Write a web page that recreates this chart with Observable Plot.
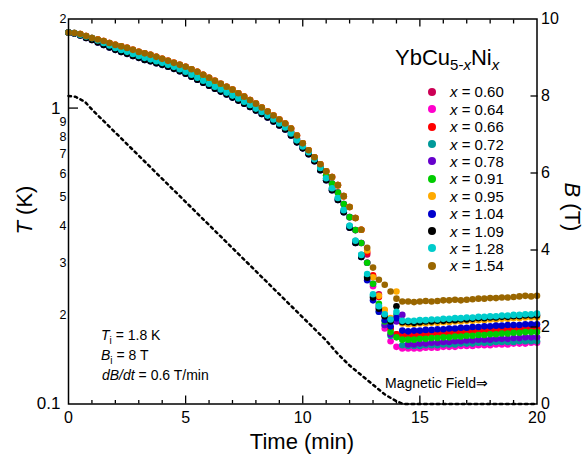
<!DOCTYPE html>
<html>
<head>
<meta charset="utf-8">
<script src="https://cdn.jsdelivr.net/npm/d3@7"></script>
<script src="https://cdn.jsdelivr.net/npm/@observablehq/plot@0.6"></script>
<style>
  body { margin: 0; background: white; }
  #wrap { position: relative; width: 587px; height: 455px; font-family: "Liberation Sans", Arial, sans-serif; color: black; }
  .ov { position: absolute; line-height: 1; white-space: nowrap; }
  .ov sub { line-height: 0; }
  .ldot { position: absolute; width: 8px; height: 8px; border-radius: 50%; }
</style>
</head>
<body>
<div id="wrap"></div>
<script>
// time grid (min)
const times = [0,0.25,0.5,0.75,1,1.25,1.5,1.75,2,2.25,2.5,2.75,3,3.25,3.5,3.75,4,4.25,4.5,4.75,5,5.25,5.5,5.75,6,6.25,6.5,6.75,7,7.25,7.5,7.75,8,8.25,8.5,8.75,9,9.25,9.5,9.75,10,10.25,10.5,10.75,11,11.25,11.5,11.75,12,12.25,12.5,12.75,13,13.25,13.5,13.75,14,14.25,14.5,14.75,15,15.25,15.5,15.75,16,16.25,16.5,16.75,17,17.25,17.5,17.75,18,18.25,18.5,18.75,19,19.25,19.5,19.75,20];

// cooling part, t = 0 ... 12.5 min (K)
const coolA = [1.801,1.794,1.780,1.753,1.726,1.706,1.686,1.660,1.635,1.616,1.597,1.573,1.548,1.531,1.513,1.490,1.467,1.444,1.422,1.400,1.379,1.352,1.327,1.296,1.266,1.237,1.209,1.181,1.154,1.122,1.093,1.064,1.035,1.004,0.973,0.944,0.915,0.887,0.853,0.808,0.760,0.720,0.682,0.646,0.612,0.585,0.549,0.504,0.463,0.425,0.388];
const coolB = [1.801,1.790,1.770,1.740,1.713,1.686,1.660,1.632,1.604,1.582,1.561,1.537,1.513,1.493,1.476,1.453,1.433,1.411,1.389,1.366,1.342,1.314,1.287,1.257,1.228,1.200,1.173,1.146,1.119,1.091,1.064,1.036,1.008,0.979,0.951,0.922,0.894,0.867,0.830,0.786,0.745,0.709,0.671,0.631,0.591,0.556,0.518,0.474,0.428,0.387,0.350];
const coolC = [1.801,1.792,1.770,1.745,1.724,1.693,1.660,1.628,1.597,1.572,1.549,1.524,1.501,1.478,1.461,1.439,1.422,1.400,1.378,1.353,1.326,1.296,1.266,1.237,1.209,1.181,1.155,1.128,1.102,1.077,1.051,1.024,0.996,0.970,0.943,0.915,0.887,0.860,0.821,0.778,0.742,0.709,0.671,0.627,0.579,0.536,0.497,0.452,0.400,0.356,0.319];
const coolD = [1.801,1.787,1.760,1.726,1.700,1.667,1.635,1.603,1.573,1.548,1.525,1.501,1.478,1.455,1.439,1.417,1.400,1.379,1.357,1.332,1.306,1.276,1.247,1.218,1.190,1.163,1.137,1.111,1.085,1.060,1.035,1.008,0.981,0.955,0.929,0.901,0.873,0.847,0.808,0.766,0.731,0.698,0.661,0.617,0.570,0.528,0.489,0.445,0.394,0.350,0.314];

// field-off transition, t = 12.75 ... 14.25 min (K)
const tail060 = [0.320,0.270,0.235,0.200,0.180,0.172,0.172];
const tail064 = [0.300,0.250,0.210,0.180,0.163,0.156,0.154];
const tail066 = [0.325,0.272,0.230,0.198,0.180,0.172,0.170];
const tail072 = [0.270,0.232,0.205,0.185,0.170,0.200,0.158];
const tail078 = [0.300,0.255,0.215,0.185,0.172,0.190,0.200];
const tail091 = [0.300,0.255,0.218,0.190,0.175,0.168,0.165];
const tail095 = [0.330,0.268,0.232,0.208,0.195,0.240,0.187];
const tail104 = [0.262,0.224,0.205,0.192,0.183,0.195,0.177];
const tail109 = [0.267,0.229,0.210,0.198,0.190,0.214,0.189];
const tail128 = [0.275,0.235,0.214,0.201,0.193,0.205,0.191];
const tail154 = [0.337,0.289,0.263,0.253,0.240,0.227,0.222];

// zero-field plateau, t = 14.5 ... 20 min (K)
const plat060 = [0.172,0.172,0.173,0.173,0.174,0.174,0.175,0.175,0.176,0.176,0.177,0.177,0.178,0.178,0.179,0.179,0.179,0.180,0.180,0.180,0.181,0.181,0.181];
const plat064 = [0.154,0.154,0.154,0.155,0.155,0.155,0.156,0.156,0.156,0.157,0.157,0.157,0.158,0.158,0.158,0.159,0.159,0.159,0.160,0.160,0.160,0.161,0.161];
const plat066 = [0.170,0.170,0.171,0.171,0.172,0.172,0.173,0.173,0.174,0.174,0.175,0.175,0.176,0.176,0.177,0.177,0.177,0.178,0.178,0.178,0.179,0.179,0.179];
const plat072 = [0.157,0.157,0.157,0.158,0.158,0.158,0.159,0.159,0.159,0.160,0.160,0.160,0.161,0.161,0.161,0.162,0.162,0.162,0.162,0.163,0.163,0.163,0.163];
const plat078 = [0.159,0.159,0.160,0.160,0.161,0.161,0.162,0.162,0.163,0.163,0.164,0.164,0.165,0.165,0.165,0.166,0.166,0.166,0.167,0.167,0.168,0.168,0.168];
const plat091 = [0.165,0.165,0.166,0.166,0.167,0.167,0.168,0.168,0.169,0.169,0.170,0.170,0.171,0.171,0.172,0.172,0.173,0.173,0.174,0.174,0.175,0.175,0.175];
const plat095 = [0.186,0.186,0.187,0.187,0.188,0.188,0.189,0.189,0.190,0.190,0.191,0.191,0.192,0.192,0.193,0.193,0.194,0.194,0.195,0.195,0.196,0.196,0.196];
const plat104 = [0.176,0.177,0.177,0.178,0.178,0.179,0.179,0.180,0.180,0.181,0.181,0.182,0.182,0.183,0.183,0.184,0.184,0.185,0.185,0.185,0.186,0.186,0.186];
const plat109 = [0.189,0.188,0.189,0.190,0.190,0.191,0.191,0.192,0.192,0.193,0.193,0.194,0.195,0.195,0.196,0.196,0.197,0.197,0.198,0.198,0.199,0.199,0.199];
const plat128 = [0.191,0.191,0.192,0.192,0.193,0.193,0.194,0.194,0.195,0.195,0.196,0.196,0.197,0.197,0.198,0.198,0.199,0.199,0.200,0.200,0.201,0.201,0.202];
const plat154 = [0.222,0.221,0.222,0.223,0.222,0.223,0.224,0.224,0.225,0.224,0.225,0.226,0.227,0.227,0.228,0.228,0.229,0.229,0.230,0.231,0.232,0.231,0.232];

const seriesX = ["0.60","0.64","0.66","0.72","0.78","0.91","0.95","1.04","1.09","1.28","1.54"];
const seriesColor = ["#cc0055","#ff00cc","#ff0000","#009999","#6600cc","#00cc00","#ffaa00","#0000cc","#000000","#00cccc","#996600"];
const seriesT = [
  coolA.concat(tail060, plat060),
  coolB.concat(tail064, plat064),
  coolA.concat(tail066, plat066),
  coolC.concat(tail072, plat072),
  coolB.concat(tail078, plat078),
  coolB.concat(tail091, plat091),
  coolA.concat(tail095, plat095),
  coolD.concat(tail104, plat104),
  coolD.concat(tail109, plat109),
  coolC.concat(tail128, plat128),
  coolA.concat(tail154, plat154)
];

// magnetic field (T) vs time (min)
const fieldTime = [0,0.3,0.7,1,2,4,6,8,10,11,11.5,12,12.5,13,13.5,14,14.3,20];
const fieldB = [8,7.98,7.85,7.65,7.05,5.85,4.65,3.45,2.25,1.65,1.3,1.0,0.75,0.5,0.25,0.07,0,0];

// axis ticks
const xMajor = [5,10,15];
const xMinor = [1,2,3,4,6,7,8,9,11,12,13,14,16,17,18,19];
const xLabels = [0,5,10,15,20];
const yBig = [0.1,1];
const ySmall = [0.2,0.3,0.4,0.5,0.6,0.7,0.8,0.9,2];
const bTicks = [0,2,4,6,8,10];

// right axis B (0..10 T, linear) shares the frame with the log T axis (0.1..2 K)
const Tmin = 0.1, Tmax = 2, Bmax = 10;
const bToT = b => Tmin * Math.pow(Tmax / Tmin, b / Bmax);
const tToB = t => Bmax * Math.log(t / Tmin) / Math.log(Tmax / Tmin);

const fieldData = fieldTime.map((t, i) => ({t, T: bToT(fieldB[i])}));

const dotMarks = seriesT.map((arr, k) =>
  Plot.dot(arr.map((T, i) => ({t: times[i], T})), {x: "t", y: "T", r: 3.3, fill: seriesColor[k], stroke: "none"})
);

const plot = Plot.plot({
  width: 587,
  height: 455,
  marginLeft: 68,
  marginRight: 50.5,
  marginTop: 18.5,
  marginBottom: 51.5,
  style: {fontFamily: "'Liberation Sans', Arial, sans-serif", color: "black", background: "white", overflow: "visible"},
  x: {domain: [0, 20], axis: null},
  y: {type: "log", domain: [Tmin, Tmax], axis: null},
  marks: [
    Plot.line(fieldData, {x: "t", y: "T", stroke: "black", strokeWidth: 2.5, strokeDasharray: "2.5,3.8"}),
    ...dotMarks,
    Plot.frame({stroke: "black", strokeWidth: 1.5}),
    // bottom labels and inward ticks
    Plot.axisX(xLabels, {anchor: "bottom", tickSize: 0, tickPadding: 8, fontSize: 16, label: null, tickFormat: d => String(d)}),
    Plot.axisX(xMajor, {anchor: "bottom", tickSize: 8, dy: -8, fill: "none", label: null, strokeWidth: 1.3}),
    Plot.axisX(xMinor, {anchor: "bottom", tickSize: 3.5, dy: -3.5, fill: "none", label: null, strokeWidth: 1.3}),
    Plot.axisX(xMajor, {anchor: "top", tickSize: 7, dy: 7, fill: "none", label: null, strokeWidth: 1.3}),
    Plot.axisX(xMinor, {anchor: "top", tickSize: 4, dy: 4, fill: "none", label: null, strokeWidth: 1.3}),
    // left log axis
    Plot.axisY(yBig, {anchor: "left", tickSize: 0, tickPadding: 8, fontSize: 17, label: null, tickFormat: d => String(d)}),
    Plot.axisY(ySmall, {anchor: "left", tickSize: 0, tickPadding: 2, fontSize: 12.5, label: null, tickFormat: d => d < 1 ? String(Math.round(d * 10)) : String(d)}),
    Plot.axisY([1], {anchor: "left", tickSize: 10, dx: 10, fill: "none", label: null, strokeWidth: 1.3}),
    // right B axis
    Plot.axisY(bTicks.map(bToT), {anchor: "right", tickSize: 0, tickPadding: 4, fontSize: 16, label: null, tickFormat: d => String(Math.round(tToB(d)))}),
    Plot.axisY([2,4,6,8].map(bToT), {anchor: "right", tickSize: 7, dx: -7, fill: "none", label: null, strokeWidth: 1.3})
  ]
});

const wrap = document.getElementById("wrap");
wrap.appendChild(plot);

function ov(html, css) {
  const d = document.createElement("div");
  d.className = "ov";
  d.innerHTML = html;
  Object.assign(d.style, css);
  wrap.appendChild(d);
  return d;
}

// axis titles
ov("<i>T</i> (K)", {left: "25px", top: "210px", fontSize: "22px", transform: "translate(-50%,-50%) rotate(-90deg)"});
ov("<i>B</i> (T)", {left: "572px", top: "207px", fontSize: "22px", transform: "translate(-50%,-50%) rotate(90deg)"});
ov("Time (min)", {left: "302px", top: "430.5px", fontSize: "22px", transform: "translateX(-50%)"});

// legend
ov("YbCu<sub style='font-size:15px;vertical-align:-5px'>5-<i>x</i></sub>Ni<sub style='font-size:15px;vertical-align:-5px'><i>x</i></sub>",
   {left: "395px", top: "46.5px", fontSize: "22px"});
seriesX.forEach((x, i) => {
  const cy = 91.7 + 17.4 * i;
  const dot = document.createElement("div");
  dot.className = "ldot";
  Object.assign(dot.style, {left: "428px", top: (cy - 4) + "px", background: seriesColor[i]});
  wrap.appendChild(dot);
  ov("<i>x</i> = " + x, {left: "450px", top: (cy - 7.4) + "px", fontSize: "15px"});
});

// annotations
ov("<i>T</i><sub style='font-size:10px;vertical-align:-4px'>i</sub> = 1.8 K", {left: "101px", top: "328px", fontSize: "14px"});
ov("<i>B</i><sub style='font-size:10px;vertical-align:-4px'>i</sub> = 8 T", {left: "101px", top: "348px", fontSize: "14px"});
ov("<i>dB/dt</i> = 0.6 T/min", {left: "102px", top: "368px", fontSize: "14px"});
ov("Magnetic Field⇒", {left: "385px", top: "376px", fontSize: "14px"});
</script>
</body>
</html>
